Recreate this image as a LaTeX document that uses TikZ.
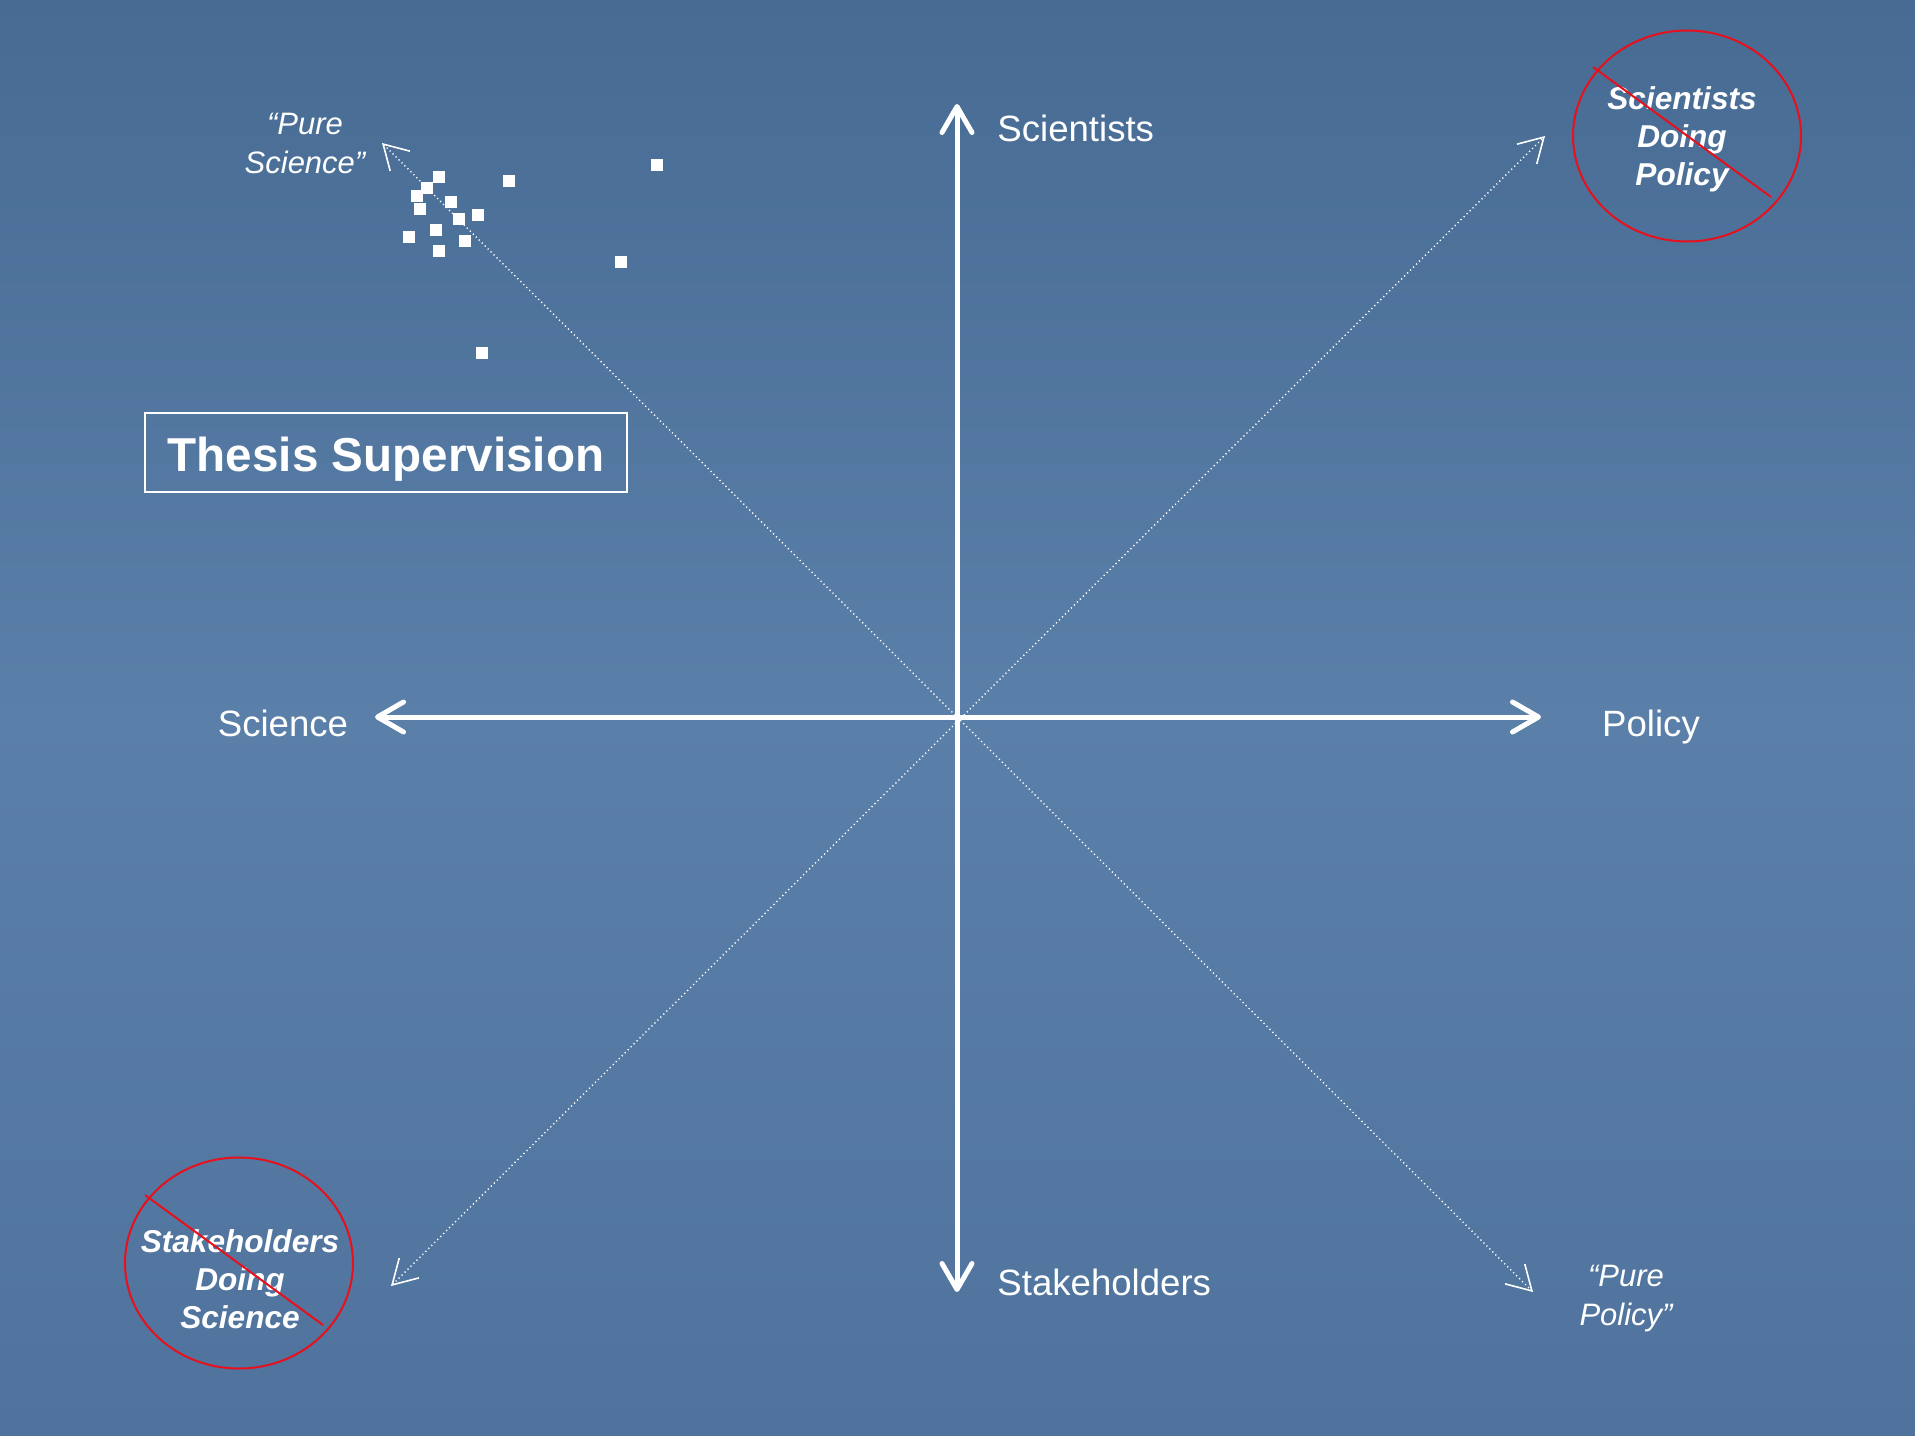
\documentclass[tikz,border=0pt]{standalone}
\usepackage{fontspec}
\setmainfont{Liberation Sans}
\usetikzlibrary{arrows.meta,shapes.geometric,calc}
\definecolor{bgtop}{HTML}{476B93}
\definecolor{bgmid}{HTML}{5A7FA8}
\definecolor{bgbot}{HTML}{4F739C}
\definecolor{nored}{HTML}{E8101C}
\begin{document}
\begin{tikzpicture}[x=0.5pt,y=-0.5pt,
  axis/.style={draw=white,line width=2.5pt,
    {Straight Barb[length=13pt,width=15pt,round]}-{Straight Barb[length=13pt,width=15pt,round]}},
  diag/.style={draw=white,line width=0.7pt,dash pattern=on 0.6pt off 1.5pt,
    {Straight Barb[length=12pt,width=14pt,line width=0.8pt]}-{Straight Barb[length=12pt,width=14pt,line width=0.8pt]}},
  lbl/.style={text=white,inner sep=0pt,font=\fontsize{18.3}{22}\selectfont},
  quote/.style={text=white,inner sep=0pt,align=center,font=\fontsize{15.5}{19.5}\selectfont\itshape},
  nocircle/.style={ellipse,draw=nored,line width=1pt,minimum width=114pt,minimum height=105.5pt,inner sep=0pt},
  notext/.style={text=white,inner sep=0pt,align=center,font=\fontsize{15.8}{19}\selectfont\bfseries\itshape},
  strike/.style={draw=nored,line width=1pt},
  sq/.style={fill=white,minimum size=6pt,inner sep=0pt},
  titlebox/.style={draw=white,line width=1pt,minimum width=241pt,minimum height=39.5pt},
  titletext/.style={text=white,inner sep=0pt,font=\fontsize{23.8}{28}\selectfont\bfseries}]
% background
\fill[top color=bgtop,bottom color=bgbot,middle color=bgmid] (0,0) rectangle (1915,1435);
\useasboundingbox (0,0) rectangle (1915,1435);
% axis end points
\coordinate (top) at (957,104);
\coordinate (bot) at (957,1292);
\coordinate (lft) at (375,717);
\coordinate (rgt) at (1541,717);
\coordinate (nw) at (382,143);
\coordinate (se) at (1533,1292);
\coordinate (ne) at (1545,136);
\coordinate (sw) at (391,1286);
% diagonals
\draw[diag] (nw) -- (se);
\draw[diag] (sw) -- (ne);
% main axes
\draw[axis] (bot) -- (top);
\draw[axis] (lft) -- (rgt);
% axis labels
\node[lbl,anchor=west] (scientists) at (997,128) {Scientists};
\node[lbl,anchor=west] (stakeholders) at (997,1282) {Stakeholders};
\node[lbl,anchor=base] (science) at (283,736) {Science};
\node[lbl,anchor=base] (policy) at (1651,736) {Policy};
% quotes
\node[quote] (puresci) at (305,143) {“Pure\\Science”};
\node[quote] (purepol) at (1626,1299) {“Pure\\Policy”};
% crossed circles
\node[nocircle] (sdp) at (1687,136) {};
\node[notext] (sdptext) at (1682,139) {Scientists\\Doing\\Policy};
\draw[strike] ($(sdp.center)+(-94,-69)$) -- ($(sdp.center)+(84,61)$);
\node[nocircle] (sds) at (239,1263) {};
\node[notext] (sdstext) at (240,1279) {Stakeholders\\Doing\\Science};
\draw[strike] ($(sds.center)+(-94,-68)$) -- ($(sds.center)+(84,62)$);
% title box
\node[titlebox] (thesis) at (386,452.5) {};
\node[titletext] (thesistext) at (386,459) {Thesis Supervision};
% data squares
\node[sq] (d1) at (439,177) {};
\node[sq] (d2) at (427,188) {};
\node[sq] (d3) at (417,196) {};
\node[sq] (d4) at (451,202) {};
\node[sq] (d5) at (420,209) {};
\node[sq] (d6) at (478,215) {};
\node[sq] (d7) at (459,219) {};
\node[sq] (d8) at (436,230) {};
\node[sq] (d9) at (409,237) {};
\node[sq] (d10) at (465,241) {};
\node[sq] (d11) at (439,251) {};
\node[sq] (d12) at (509,181) {};
\node[sq] (d13) at (657,165) {};
\node[sq] (d14) at (621,262) {};
\node[sq] (d15) at (482,353) {};
\end{tikzpicture}
\end{document}
